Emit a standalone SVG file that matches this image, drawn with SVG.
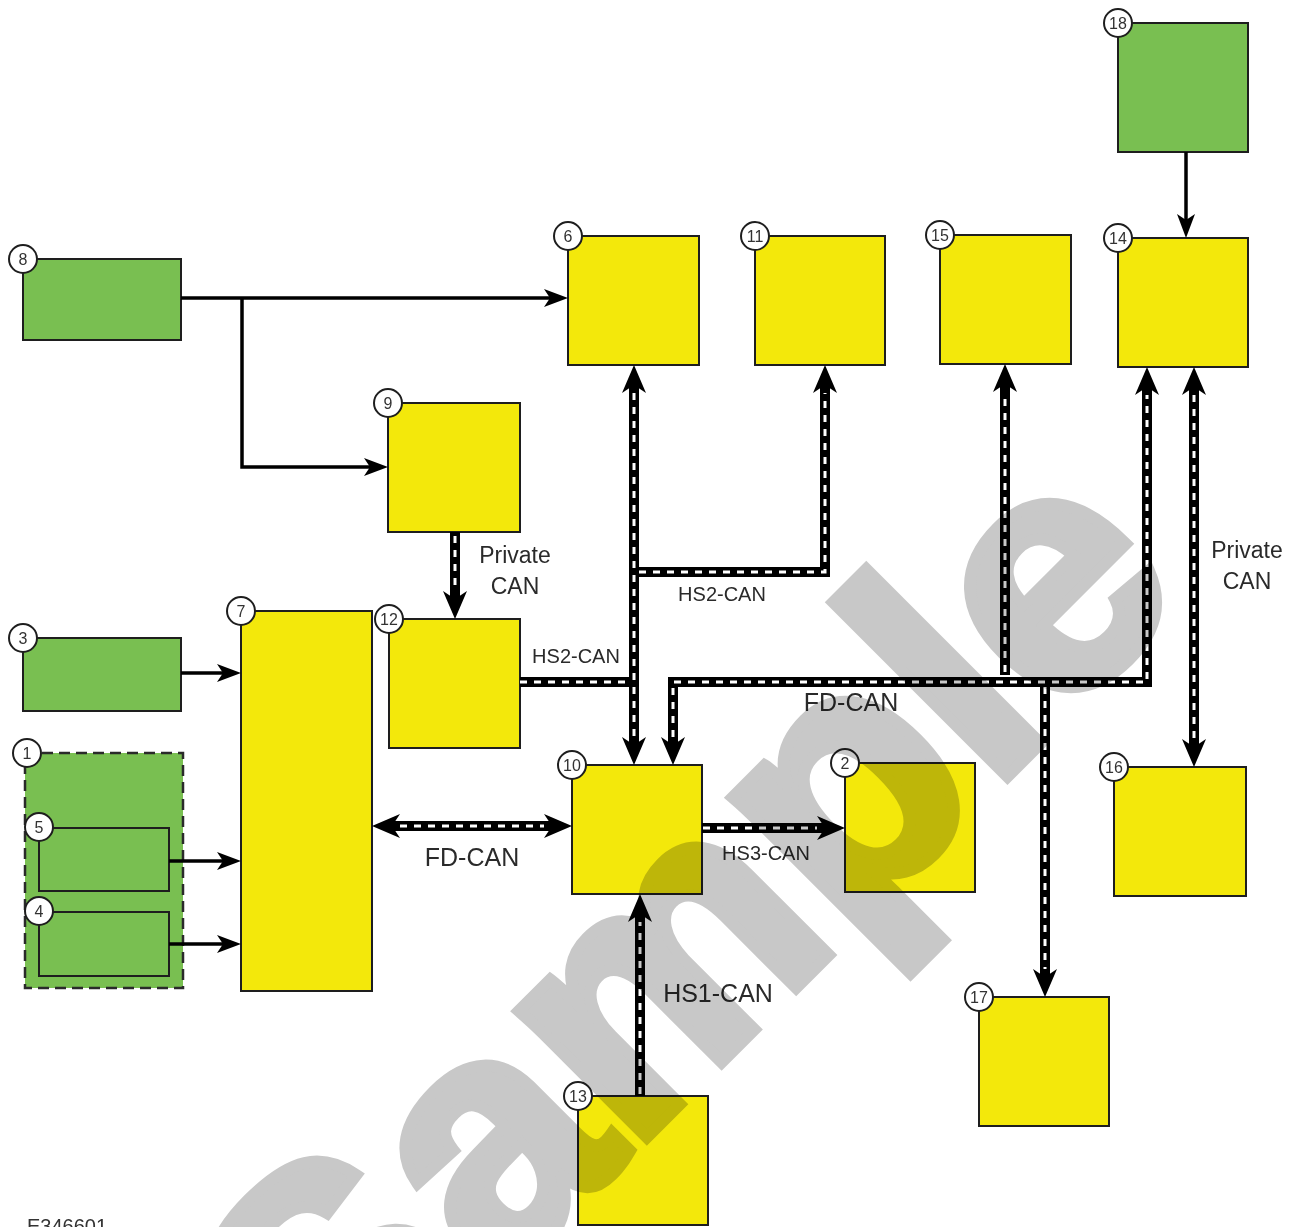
<svg xmlns="http://www.w3.org/2000/svg" width="1298" height="1227" viewBox="0 0 1298 1227">
<style>
.y{fill:#f3e80b;stroke:#1e1e1e;stroke-width:2}
.g{fill:#79bf51;stroke:#1e1e1e;stroke-width:2}
.gd{fill:#79bf51;stroke:#2a2a2a;stroke-width:2.5;stroke-dasharray:11 6}
.c{fill:#fff;stroke:#1e1e1e;stroke-width:2}
.n{font-family:"Liberation Sans",Arial,sans-serif;font-size:16px;fill:#333;text-anchor:middle;dominant-baseline:central}
.t{font-family:"Liberation Sans",Arial,sans-serif;fill:#2a2a2a;text-anchor:middle}
.s{fill:none;stroke:#000;stroke-width:3.5}
.b{fill:none;stroke:#000;stroke-width:10}
.w{fill:none;stroke:#fff;stroke-width:3;stroke-dasharray:7 7}
.wm{font-family:"Liberation Sans",Arial,sans-serif;font-weight:bold;font-size:340px;fill:#c8c8c8;stroke:#c8c8c8;stroke-width:12;mix-blend-mode:multiply}
</style>
<defs>
<marker id="as" viewBox="-2 -12 30 24" markerWidth="30" markerHeight="24" refX="10" refY="0" orient="auto-start-reverse" markerUnits="userSpaceOnUse">
<path d="M24,0 L0,-9 L6,0 L0,9 Z" fill="#000"/>
</marker>
<marker id="ab" viewBox="-2 -16 34 32" markerWidth="34" markerHeight="32" refX="12" refY="0" orient="auto-start-reverse" markerUnits="userSpaceOnUse">
<path d="M28,0 L0,-12 L8,0 L0,12 Z" fill="#000"/>
</marker>
</defs>
<rect width="1298" height="1227" fill="#fff"/>

<g id="n18"><rect class="g" x="1118" y="23" width="130" height="129"/><circle class="c" cx="1118" cy="23" r="14"/><text class="n" x="1118" y="23">18</text></g>
<g id="n14"><rect class="y" x="1118" y="238" width="130" height="129"/><circle class="c" cx="1118" cy="238" r="14"/><text class="n" x="1118" y="238">14</text></g>
<g id="n6"><rect class="y" x="568" y="236" width="131" height="129"/><circle class="c" cx="568" cy="236" r="14"/><text class="n" x="568" y="236">6</text></g>
<g id="n11"><rect class="y" x="755" y="236" width="130" height="129"/><circle class="c" cx="755" cy="236" r="14"/><text class="n" x="755" y="236">11</text></g>
<g id="n15"><rect class="y" x="940" y="235" width="131" height="129"/><circle class="c" cx="940" cy="235" r="14"/><text class="n" x="940" y="235">15</text></g>
<g id="n8"><rect class="g" x="23" y="259" width="158" height="81"/><circle class="c" cx="23" cy="259" r="14"/><text class="n" x="23" y="259">8</text></g>
<g id="n9"><rect class="y" x="388" y="403" width="132" height="129"/><circle class="c" cx="388" cy="403" r="14"/><text class="n" x="388" y="403">9</text></g>
<g id="n3"><rect class="g" x="23" y="638" width="158" height="73"/><circle class="c" cx="23" cy="638" r="14"/><text class="n" x="23" y="638">3</text></g>
<g id="n7"><rect class="y" x="241" y="611" width="131" height="380"/><circle class="c" cx="241" cy="611" r="14"/><text class="n" x="241" y="611">7</text></g>
<g id="n12"><rect class="y" x="389" y="619" width="131" height="129"/><circle class="c" cx="389" cy="619" r="14"/><text class="n" x="389" y="619">12</text></g>
<g id="n1"><rect class="gd" x="25" y="753" width="158" height="235"/><circle class="c" cx="27" cy="753" r="14"/><text class="n" x="27" y="753">1</text></g>
<g id="n5"><rect class="g" x="39" y="828" width="130" height="63"/><circle class="c" cx="39" cy="827" r="14"/><text class="n" x="39" y="827">5</text></g>
<g id="n4"><rect class="g" x="39" y="912" width="130" height="64"/><circle class="c" cx="39" cy="911" r="14"/><text class="n" x="39" y="911">4</text></g>
<g id="n10"><rect class="y" x="572" y="765" width="130" height="129"/><circle class="c" cx="572" cy="765" r="14"/><text class="n" x="572" y="765">10</text></g>
<g id="n2"><rect class="y" x="845" y="763" width="130" height="129"/><circle class="c" cx="845" cy="763" r="14"/><text class="n" x="845" y="763">2</text></g>
<g id="n16"><rect class="y" x="1114" y="767" width="132" height="129"/><circle class="c" cx="1114" cy="767" r="14"/><text class="n" x="1114" y="767">16</text></g>
<g id="n17"><rect class="y" x="979" y="997" width="130" height="129"/><circle class="c" cx="979" cy="997" r="14"/><text class="n" x="979" y="997">17</text></g>
<g id="n13"><rect class="y" x="578" y="1096" width="130" height="129"/><circle class="c" cx="578" cy="1096" r="14"/><text class="n" x="578" y="1096">13</text></g>

<g id="connectors">
<path class="s" d="M181,298 H554" marker-end="url(#as)"/>
<path class="s" d="M242,298 V467 H374" marker-end="url(#as)"/>
<path class="s" d="M1186,152 V224" marker-end="url(#as)"/>
<path class="s" d="M181,673 H227" marker-end="url(#as)"/>
<path class="s" d="M169,861 H227" marker-end="url(#as)"/>
<path class="s" d="M169,944 H227" marker-end="url(#as)"/>

<path class="b" d="M455,532 V603" marker-end="url(#ab)"/>
<path class="b" d="M520,682 H634"/>
<path class="b" d="M634,381 V749" marker-start="url(#ab)" marker-end="url(#ab)"/>
<path class="b" d="M634,572 H825 V381" marker-end="url(#ab)"/>
<path class="b" d="M673,749 V682 H1147 V383" marker-start="url(#ab)" marker-end="url(#ab)"/>
<path class="b" d="M1005,675 V380" marker-end="url(#ab)"/>
<path class="b" d="M1045,682 V981" marker-end="url(#ab)"/>
<path class="b" d="M1194,383 V751" marker-start="url(#ab)" marker-end="url(#ab)"/>
<path class="b" d="M388,826 H556" marker-start="url(#ab)" marker-end="url(#ab)"/>
<path class="b" d="M702,828 H829" marker-end="url(#ab)"/>
<path class="b" d="M640,1096 V910" marker-end="url(#ab)"/>

<path class="w" d="M455,536 V591"/>
<path class="w" d="M520,682 H629"/>
<path class="w" d="M634,393 V737"/>
<path class="w" d="M639,572 H825 V393"/>
<path class="w" d="M673,737 V682 H1147 V395"/>
<path class="w" d="M1005,672 V392"/>
<path class="w" d="M1045,687 V969"/>
<path class="w" d="M1194,395 V739"/>
<path class="w" d="M400,826 H544"/>
<path class="w" d="M703,828 H817"/>
<path class="w" d="M640,1094 V922"/>
</g>

<g id="labels">
<text class="t" x="515" y="563" font-size="23">Private</text>
<text class="t" x="515" y="594" font-size="23">CAN</text>
<text class="t" x="1247" y="558" font-size="23">Private</text>
<text class="t" x="1247" y="589" font-size="23">CAN</text>
<text class="t" x="576" y="663" font-size="20">HS2-CAN</text>
<text class="t" x="722" y="601" font-size="20">HS2-CAN</text>
<text class="t" x="851" y="711" font-size="25">FD-CAN</text>
<text class="t" x="472" y="866" font-size="25">FD-CAN</text>
<text class="t" x="766" y="860" font-size="20">HS3-CAN</text>
<text class="t" x="718" y="1002" font-size="25">HS1-CAN</text>
<text x="27" y="1233" font-family="Liberation Sans, Arial, sans-serif" font-size="20" fill="#333">E346601</text>
</g>

<text class="wm" x="336" y="1448" transform="rotate(-45 336 1448)">Sample</text>
</svg>
